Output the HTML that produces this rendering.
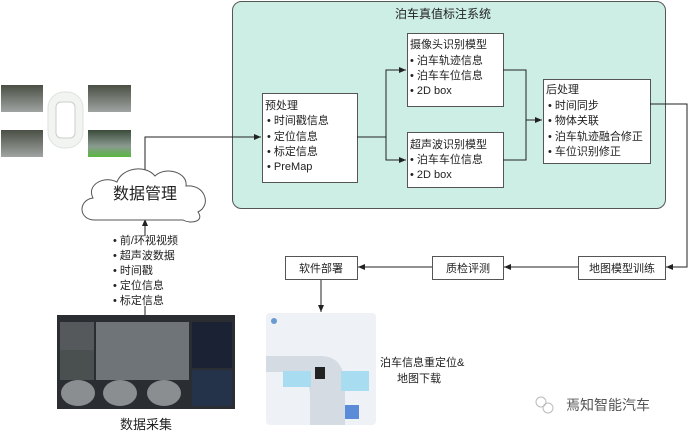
<!DOCTYPE html>
<html><head><meta charset="utf-8"><style>
html,body{margin:0;padding:0;background:#fff;}
svg{display:block;font-family:"Liberation Sans","Noto Sans CJK SC",sans-serif;}
</style></head><body>
<svg width="692" height="436" viewBox="0 0 692 436" xmlns="http://www.w3.org/2000/svg">
<defs>
<marker id="a" markerWidth="8" markerHeight="8" refX="7" refY="4" orient="auto" markerUnits="userSpaceOnUse"><path d="M0,1 L7,4 L0,7 z" fill="#222"/></marker>
<linearGradient id="cam1" x1="0" y1="0" x2="0" y2="1"><stop offset="0" stop-color="#4a5045"/><stop offset="1" stop-color="#a0a4a2"/></linearGradient>
<linearGradient id="cam2" x1="0" y1="0" x2="0" y2="1"><stop offset="0" stop-color="#3a4a3a"/><stop offset="0.6" stop-color="#8a9a90"/><stop offset="1" stop-color="#59b840"/></linearGradient>
</defs>
<rect x="1" y="85" width="42" height="27" fill="url(#cam1)"/>
<rect x="88" y="85" width="43" height="27" fill="url(#cam1)"/>
<rect x="1" y="130" width="42" height="27" fill="url(#cam1)"/>
<rect x="88" y="130" width="43" height="27" fill="url(#cam2)"/>
<rect x="48" y="92" width="35" height="56" rx="16" fill="#f2f4f2" stroke="#dde2dd"/>
<rect x="56" y="102" width="19" height="36" rx="5" fill="#fff" stroke="#ccc"/>
<rect x="232.5" y="1.5" width="433" height="207" rx="9" fill="#cdeee5" stroke="#555"/>
<text x="443" y="18" font-size="12" text-anchor="middle" fill="#222">泊车真值标注系统</text>
<g fill="#fff" stroke="#555">
<rect x="262.5" y="93.5" width="95" height="89"/>
<rect x="407.5" y="33.5" width="96" height="73"/>
<rect x="407.5" y="132.5" width="96" height="55"/>
<rect x="543.5" y="79.5" width="107" height="84"/>
<rect x="578.5" y="256.5" width="87" height="23"/>
<rect x="432.5" y="256.5" width="71" height="23"/>
<rect x="285.5" y="256.5" width="72" height="23"/>
</g>
<g font-size="11" fill="#222">
<text x="265" y="109">预处理</text>
<text x="267" y="124">• 时间戳信息</text>
<text x="267" y="140">• 定位信息</text>
<text x="267" y="155">• 标定信息</text>
<text x="267" y="170">• PreMap</text>
<text x="410" y="48">摄像头识别模型</text>
<text x="410" y="64">• 泊车轨迹信息</text>
<text x="410" y="79">• 泊车车位信息</text>
<text x="410" y="94">• 2D box</text>
<text x="410" y="148">超声波识别模型</text>
<text x="410" y="163">• 泊车车位信息</text>
<text x="410" y="178">• 2D box</text>
<text x="546" y="93">后处理</text>
<text x="548" y="109">• 时间同步</text>
<text x="548" y="124">• 物体关联</text>
<text x="548" y="140">• 泊车轨迹融合修正</text>
<text x="548" y="155">• 车位识别修正</text>
<text x="622" y="272" text-anchor="middle">地图模型训练</text>
<text x="468" y="272" text-anchor="middle">质检评测</text>
<text x="321" y="272" text-anchor="middle">软件部署</text>
<text x="113" y="244">• 前/环视视频</text>
<text x="113" y="259">• 超声波数据</text>
<text x="113" y="274">• 时间戳</text>
<text x="113" y="289">• 定位信息</text>
<text x="113" y="304">• 标定信息</text>
<text x="380" y="366">泊车信息重定位&amp;</text>
<text x="397" y="382">地图下载</text>
</g>
<g fill="none" stroke="#222" stroke-width="1">
<path d="M145,173 V137 H261" marker-end="url(#a)"/>
<path d="M357,137 H386 V70 H406" marker-end="url(#a)"/>
<path d="M386,137 V160 H406" marker-end="url(#a)"/>
<path d="M503,70 H526 V120 H542" marker-end="url(#a)"/>
<path d="M503,160 H526 V120"/>
<path d="M650,104 H687 V267 H666" marker-end="url(#a)"/>
<path d="M578,267 H504" marker-end="url(#a)"/>
<path d="M432,267 H358" marker-end="url(#a)"/>
<path d="M321,280 V312" marker-end="url(#a)"/>
<path d="M145,236 V219" marker-end="url(#a)"/>
<path d="M145,306 V315"/>
</g>
<path d="M95,220 C78,220 78,200 93,198 C86,185 104,175 117,182 C122,168 145,164 155,176 C165,166 188,172 186,186 C205,184 212,205 198,212 C205,222 190,224 183,220 Z" fill="#fff" stroke="#555"/>
<text x="145" y="199" font-size="16" text-anchor="middle" fill="#222">数据管理</text>
<rect x="57" y="315" width="178" height="94" fill="#2a2e33"/>
<rect x="96" y="322" width="93" height="58" fill="#6f7478"/>
<rect x="60" y="322" width="34" height="28" fill="#55595c"/>
<rect x="60" y="350" width="34" height="30" fill="#4a4f50"/>
<rect x="192" y="322" width="40" height="46" fill="#1a2233"/>
<rect x="192" y="370" width="40" height="36" fill="#24324a"/>
<ellipse cx="78" cy="393" rx="17" ry="13" fill="#8a8e90"/>
<ellipse cx="120" cy="393" rx="17" ry="13" fill="#8a8e90"/>
<ellipse cx="164" cy="393" rx="17" ry="13" fill="#8a8e90"/>
<text x="146" y="429" font-size="13" text-anchor="middle" fill="#222">数据采集</text>
<rect x="266" y="313" width="110" height="112" rx="4" fill="#eef1f5"/>
<circle cx="274" cy="321" r="3" fill="#6a9ad0"/>
<path d="M266,356 H320 C340,356 345,370 345,390 V425 H310 V395 C310,380 300,372 285,372 H266 Z" fill="#d4dbe3"/>
<rect x="283" y="371" width="28" height="16" fill="#a8dcf0"/>
<rect x="341" y="371" width="28" height="20" fill="#a8dcf0"/>
<rect x="315" y="367" width="10" height="12" fill="#222"/>
<rect x="345" y="405" width="14" height="14" fill="#5a8cd8"/>
<circle cx="541" cy="402" r="5" fill="none" stroke="#bbb"/>
<circle cx="548" cy="408" r="5" fill="none" stroke="#bbb"/>
<text x="566" y="410" font-size="14" fill="#555">焉知智能汽车</text>
</svg>
</body></html>
